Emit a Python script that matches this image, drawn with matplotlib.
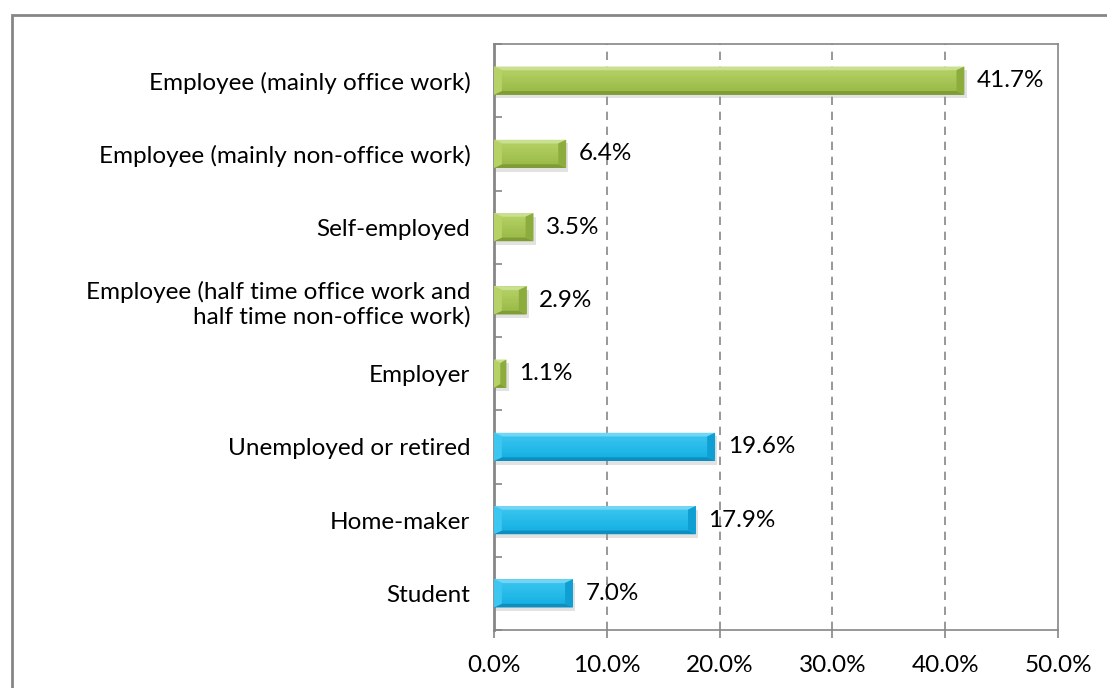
import numpy as np
import matplotlib.pyplot as plt
from matplotlib.colors import to_rgb
from matplotlib.patches import Polygon, Rectangle
from matplotlib.ticker import FuncFormatter, FixedLocator

categories = ['Employee (mainly office work)',
              'Employee (mainly non-office work)',
              'Self-employed',
              'Employee (half time office work and\nhalf time non-office work)',
              'Employer',
              'Unemployed or retired',
              'Home-maker',
              'Student']
values = [41.7, 6.4, 3.5, 2.9, 1.1, 19.6, 17.9, 7.0]
groups = ['work', 'work', 'work', 'work', 'work', 'other', 'other', 'other']

# face top, face bottom, light bevel, dark bevel, end bevel
palette = {
    'work': ('#b6d266', '#98b845', '#c9e092', '#7f9c36', '#8cac3e'),
    'other': ('#3cc6f0', '#12aee2', '#72d5f5', '#0c8fbf', '#109fd2'),
}

plt.rcParams['font.family'] = ['Lato', 'DejaVu Sans']

fig = plt.figure(figsize=(11.07, 6.88), dpi=100)
ax = fig.add_axes([494/1107, 1-630/688, (1058-494)/1107, (630-44)/688])

h = 0.385
bx = 0.7    # bevel width in % units
by = 0.05   # bevel height in category units
nband = 12
for i, (v, g) in enumerate(zip(values, groups)):
    ftop, fbot, light, dark, side = palette[g]
    top = i - h/2
    bot = i + h/2
    # soft drop shadow
    ax.add_patch(Rectangle((0.1, top + 0.05), v + 0.1, h, color='#a0a0a0', alpha=0.3,
                           lw=0, zorder=2))
    ax.barh(i, v, height=h, color=fbot, lw=0, zorder=3)
    # vertical gradient on the bar face
    c0, c1 = np.array(to_rgb(ftop)), np.array(to_rgb(fbot))
    edges = np.linspace(top, bot, nband + 1)
    for k in range(nband):
        t = k / (nband - 1)
        ax.add_patch(Rectangle((0, edges[k]), v, edges[k + 1] - edges[k],
                               color=c0 * (1 - t) + c1 * t, lw=0, zorder=3))
    bxx = min(bx, v / 2)
    ax.add_patch(Polygon([(0, top), (v, top), (v - bxx, top + by), (bxx, top + by)],
                         closed=True, color=light, lw=0, zorder=4))
    ax.add_patch(Polygon([(0, bot), (v, bot), (v - bxx, bot - by), (bxx, bot - by)],
                         closed=True, color=dark, lw=0, zorder=4))
    ax.add_patch(Polygon([(v, top), (v, bot), (v - bxx, bot - by), (v - bxx, top + by)],
                         closed=True, color=side, lw=0, zorder=4))
    ax.add_patch(Polygon([(0, top), (0, bot), (bxx, bot - by), (bxx, top + by)],
                         closed=True, color=ftop, lw=0, zorder=4))
    ax.annotate(f'{v:.1f}%', (v, i), xytext=(9, 0), textcoords='offset points',
                va='center', ha='left', fontsize=17.5, zorder=6)

ax.set_xlim(0, 50)
ax.set_ylim(7.5, -0.5)
ax.set_xticks([0, 10, 20, 30, 40, 50])
ax.xaxis.set_major_formatter(FuncFormatter(lambda x, p: f'{x:.1f}%'))
ax.tick_params(axis='x', direction='out', length=6, width=1.2, color='#868686',
               labelsize=17.5, pad=12)

ax.set_yticks(range(len(categories)))
ax.set_yticklabels(categories, fontsize=17.5, linespacing=1.2)
ax.tick_params(axis='y', which='major', length=0, pad=17)
ax.yaxis.set_minor_locator(FixedLocator([k + 0.5 for k in range(-1, 8)]))
ax.tick_params(axis='y', which='minor', direction='in', length=6, width=1.2,
               color='#868686')

for x in [10, 20, 30, 40]:
    ax.axvline(x, color='#868686', lw=1.2, ls=(0, (5, 4)), zorder=1)

for s in ax.spines.values():
    s.set_color('#868686')
    s.set_linewidth(1.2)
ax.spines['left'].set_linewidth(2)

# outer chart frame, cut off at the right and bottom
fig.add_artist(Rectangle((12/1107, -0.1), 1.2, 1.1 - 15/688, transform=fig.transFigure,
                         fill=False, ec='#868686', lw=2))

fig.savefig('out.png', dpi=100)
